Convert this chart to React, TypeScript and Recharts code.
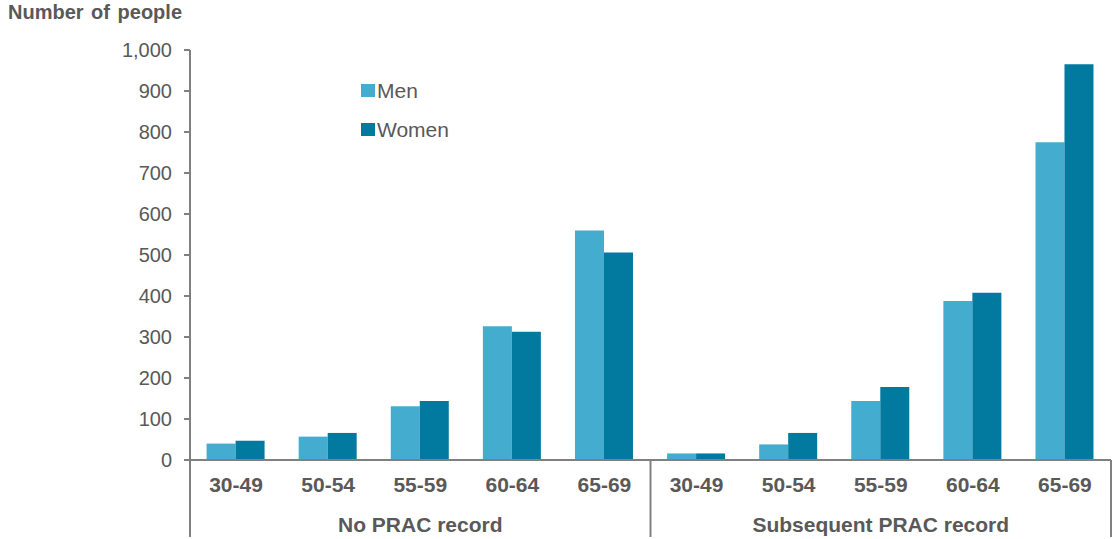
import { Bar, BarChart, XAxis, YAxis } from "recharts";

const ageBands = ["30-49", "50-54", "55-59", "60-64", "65-69"];
const groups = ["No PRAC record", "Subsequent PRAC record"];
const menNoRecord = [40, 57, 131, 326, 560];
const womenNoRecord = [47, 66, 144, 313, 506];
const menSubsequent = [16, 38, 144, 388, 775];
const womenSubsequent = [16, 66, 178, 408, 965];
const yTicks = [0, 100, 200, 300, 400, 500, 600, 700, 800, 900, 1000];

const MEN = "#44acce";
const WOMEN = "#02799e";
const TEXT = "#595959";
const AXIS = "#808080";
const FONT = "'Liberation Sans', Arial, sans-serif";
const X_AXIS_HEIGHT = 77;

const data = [
  ...ageBands.map((age, i) => ({ age, group: groups[0], men: menNoRecord[i], women: womenNoRecord[i] })),
  ...ageBands.map((age, i) => ({ age, group: groups[1], men: menSubsequent[i], women: womenSubsequent[i] })),
];

const series = [
  { key: "men", name: "Men", color: MEN },
  { key: "women", name: "Women", color: WOMEN },
];

// age label, group label under the middle band, and the group dividers
function CategoryTick(props: any) {
  const { x, y, payload, index } = props;
  const half = payload.offset ?? 0;
  const n = ageBands.length;
  const row = data[index];
  const isMiddle = index % n === Math.floor(n / 2);
  return (
    <g>
      <text x={x} y={y + 32} textAnchor="middle" fill={TEXT} fontSize={21} fontWeight="bold" fontFamily={FONT}>
        {row.age}
      </text>
      {isMiddle && (
        <text x={x + (n % 2 === 0 ? half : 0)} y={y + 72} textAnchor="middle" fill={TEXT} fontSize={21} fontWeight="bold" fontFamily={FONT}>
          {row.group}
        </text>
      )}
      {index % n === 0 && <line x1={x - half} x2={x - half} y1={y} y2={y + X_AXIS_HEIGHT} stroke={AXIS} strokeWidth={2} />}
      {index === data.length - 1 && <line x1={x + half} x2={x + half} y1={y} y2={y + X_AXIS_HEIGHT} stroke={AXIS} strokeWidth={2} />}
    </g>
  );
}

function LegendBox() {
  return (
    <div style={{ position: "absolute", left: 361, top: 71, fontFamily: FONT, fontSize: 21, color: TEXT }}>
      {series.map((s) => (
        <div key={s.key} style={{ display: "flex", alignItems: "center", height: 39 }}>
          <span style={{ width: 14, height: 13, background: s.color, marginRight: 2 }} />
          {s.name}
        </div>
      ))}
    </div>
  );
}

export default function App() {
  return (
    <div style={{ position: "absolute", left: 0, top: 0, width: 1113, height: 539, background: "#fff" }}>
      <div
        style={{
          position: "absolute",
          left: 8,
          top: 1,
          fontFamily: FONT,
          fontSize: 20,
          fontWeight: "bold",
          color: TEXT,
          wordSpacing: 2,
        }}
      >
        Number of people
      </div>
      <BarChart
        width={1113}
        height={539}
        data={data}
        margin={{ top: 50, right: 2, bottom: 2, left: 0 }}
        barCategoryGap="18%"
        barGap={0}
      >
        <YAxis
          width={190}
          domain={[0, 1000]}
          ticks={yTicks}
          interval={0}
          tickFormatter={(v: number) => v.toLocaleString("en-US")}
          axisLine={{ stroke: AXIS, strokeWidth: 2 }}
          tickLine={{ stroke: AXIS, strokeWidth: 2 }}
          tickSize={6}
          tickMargin={12}
          tick={{ fill: TEXT, fontSize: 20, fontFamily: FONT }}
        />
        <XAxis
          dataKey="age"
          height={X_AXIS_HEIGHT}
          interval={0}
          axisLine={{ stroke: AXIS, strokeWidth: 2 }}
          tickLine={false}
          tickSize={0}
          tickMargin={0}
          tick={<CategoryTick />}
        />
        {series.map((s) => (
          <Bar key={s.key} dataKey={s.key} name={s.name} fill={s.color} isAnimationActive={false} />
        ))}
      </BarChart>
      <LegendBox />
    </div>
  );
}
